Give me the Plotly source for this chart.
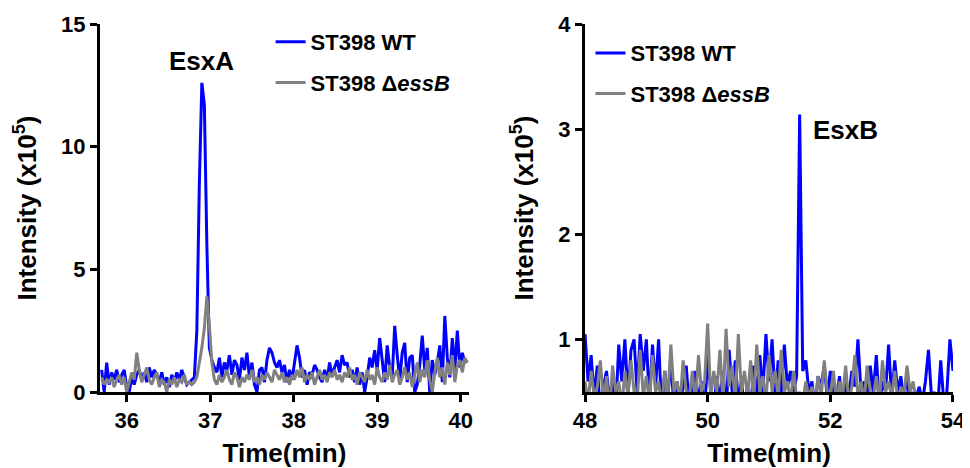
import numpy as np
import plotly.graph_objects as go
from plotly.subplots import make_subplots

# ---- Left panel (EsxA) : time grid and intensities (x10^5) ----
esxa_t_start, esxa_t_step, esxa_n = 35.70, 0.03, 147
esxa_time = np.round(esxa_t_start + esxa_t_step * np.arange(esxa_n), 3)

esxa_wt = [
    0.9, 0.0, 1.2, 0.3, 0.8, 0.5, 0.9, 0.4, 0.7, 0.9, 0.2, 0.0, 0.6, 0.3, 0.7, 0.9, 0.5, 0.8, 0.4, 1.0,
    0.6, 0.9, 0.7, 0.4, 0.8, 0.3, 0.6, 0.2, 0.7, 0.4, 0.8, 0.5, 0.9, 0.6, 0.3, 0.4, 0.5,
    0.6, 2.5, 8.5, 12.6, 11.7, 6.0, 1.8, 1.3, 1.0,
    0.8, 1.4, 0.6, 1.2, 0.9, 1.5, 0.7, 1.3, 1.1, 0.5, 1.4, 0.9, 1.6, 0.6, 1.2, 0.3, 0.0, 0.9, 1.0, 0.4,
    1.3, 1.8, 1.6, 1.2, 1.0, 1.3, 0.8, 1.1, 0.4, 0.9, 0.5, 1.2, 1.9, 1.4, 0.6, 0.9, 0.3, 0.8, 0.7, 1.1,
    0.9, 0.6, 0.4, 0.9, 0.5, 1.2, 0.7, 1.0, 1.3, 0.8, 1.5, 1.1, 1.2, 0.6, 0.9, 0.4, 1.0, 0.3, 0.8, 0.0,
    0.6, 1.4, 1.0, 1.7, 0.9, 2.2, 1.2, 0.4, 1.9, 1.0, 0.6, 2.7, 1.5, 0.5, 1.6, 2.0, 0.4, 1.4, 1.5, 0.0,
    0.3, 1.1, 2.3, 0.9, 1.8, 0.0, 1.3, 0.7, 1.2, 1.9, 0.4, 3.1, 1.4, 0.6, 2.2, 0.9, 2.5, 1.0, 1.6, 1.2,
    1.3,
]
esxa_ko = [
    0.6, 0.3, 0.5, 0.4, 0.6, 0.2, 0.5, 0.7, 0.3, 0.6, 0.0, 0.4, 0.8, 0.5, 1.6, 0.9, 0.4, 0.7, 1.0, 0.5,
    0.3, 0.6, 0.8, 0.2, 0.5, 0.4, 0.0, 0.5, 0.3, 0.6, 0.2, 0.5, 0.4, 0.7, 0.3, 0.4, 0.3,
    0.4, 0.6, 1.2, 1.8, 2.6, 3.9, 2.7, 1.2, 0.5,
    0.3, 0.7, 0.4, 0.6, 0.9, 0.5, 0.3, 0.8, 0.6, 0.2, 0.6, 0.4, 0.7, 0.5, 0.9, 0.4, 0.6, 0.3, 0.7, 0.5,
    0.8, 0.6, 0.4, 0.9, 0.7, 0.5, 0.8, 0.4, 0.6, 0.3, 0.7, 0.5, 0.9, 0.6, 1.0, 0.4, 0.7, 0.5, 0.8, 0.3,
    0.6, 0.9, 0.5, 0.7, 0.4, 0.8, 0.6, 0.9, 0.5, 0.7, 0.4, 0.8, 0.6, 1.0, 0.5, 0.7, 0.3, 0.8, 0.6, 0.4,
    0.9, 0.5, 0.7, 0.3, 1.0, 0.6, 0.4, 0.8, 0.5, 1.1, 0.4, 0.7, 0.9, 0.3, 0.6, 1.0, 0.5, 0.8, 0.2, 0.7,
    1.2, 0.4, 0.9, 0.6, 1.3, 0.5, 0.0, 0.8, 1.4, 0.6, 1.0, 0.3, 1.2, 0.7, 1.5, 0.4, 1.1, 1.3, 0.8, 1.4,
    1.2,
]

# ---- Right panel (EsxB) ----
esxb_t_start, esxb_t_step, esxb_n = 48.0, 0.05, 121
esxb_time = np.round(esxb_t_start + esxb_t_step * np.arange(esxb_n), 3)

esxb_wt = [
    1.05, 0.6, 0.85, 0.45, 0.75, 0.3, 0.55, 0.7, 0.4, 0.65, 0.3, 0.95, 0.6, 1.0, 0.45, 0.9, 1.0, 0.5, 1.05, 0.7,
    1.0, 0.4, 0.95, 0.55, 1.0, 0.3, 0.7, 0.45, 0.8, 0.35, 0.6, 0.4, 0.55, 0.75, 0.35, 0.5, 0.7, 0.4, 0.6, 0.3,
    0.85, 0.5, 0.35, 0.65, 0.4, 0.7, 0.3, 0.9, 0.5, 0.8, 0.4, 0.6, 0.35, 0.55, 0.3, 0.75, 0.45, 0.85, 0.5, 1.05,
    0.6, 1.0, 0.45, 0.8, 0.5, 0.95, 0.55, 0.7, 0.5, 0.65, 3.14, 0.7, 0.8, 0.5, 0.6, 0.35, 0.65, 0.55, 0.75, 0.45,
    0.7, 0.5, 0.45, 0.65, 0.3, 0.6, 0.45, 0.7, 0.55, 1.0, 0.5, 0.6, 0.4, 0.75, 0.5, 0.85, 0.35, 0.6, 0.5, 0.95,
    0.45, 0.8, 0.5, 0.65, 0.4, 0.7, 0.35, 0.5, 0.45, 0.55, 0.4, 0.6, 0.9, 0.45, 0.5, 0.35, 0.8, 0.4, 0.5, 1.0,
    0.7,
]
esxb_ko = [
    0.6, 0.4, 0.7, 0.45, 0.55, 0.8, 0.4, 0.65, 0.3, 0.75, 0.5, 0.6, 0.35, 0.7, 0.45, 0.8, 0.5, 0.4, 0.9, 0.45,
    0.65, 0.4, 0.85, 0.5, 0.6, 0.35, 0.7, 0.45, 0.95, 0.5, 0.6, 0.4, 0.8, 0.5, 0.45, 0.7, 0.4, 0.85, 0.5, 0.6,
    1.15, 0.45, 0.7, 0.5, 0.9, 0.4, 1.1, 0.55, 0.75, 0.4, 1.05, 0.5, 0.7, 0.45, 0.8, 0.4, 0.95, 0.5, 0.65, 0.4,
    0.85, 0.5, 0.7, 0.45, 0.9, 0.5, 0.6, 0.4, 0.7, 0.45, 0.5, 0.4, 0.6, 0.45, 0.55, 0.4, 0.65, 0.45, 0.8, 0.5,
    0.45, 0.7, 0.4, 0.6, 0.45, 0.75, 0.4, 0.55, 0.85, 0.45, 0.6, 0.4, 0.75, 0.5, 0.45, 0.65, 0.4, 0.8, 0.5, 0.6,
    0.45, 0.7, 0.4, 0.55, 0.45, 0.75, 0.5, 0.6, 0.4, 0.3, 0.3, 0.3, 0.3, 0.3, 0.3, 0.3, 0.3, 0.3, 0.3, 0.3,
    0.3,
]

series_names = ["ST398 WT", "ST398 \u0394<i>essB</i>"]
series_colors = ["#0000FF", "#808080"]
esxa_ticks = [0, 5, 10, 15]
esxb_ticks = [1, 2, 3, 4]

FONT = "Liberation Sans, Arial, sans-serif"

fig = make_subplots(rows=1, cols=2, horizontal_spacing=0.136)
fig.update_layout(
    xaxis=dict(domain=[0.0, 0.4326]),
    xaxis2=dict(domain=[0.5686, 1.0]),
)

for name, col, ys, grp in zip(series_names, series_colors, [esxa_wt, esxa_ko], ["a1", "a2"]):
    fig.add_trace(go.Scatter(x=esxa_time, y=ys, mode="lines", name=name,
                             line=dict(color=col, width=3), legend="legend",
                             legendgroup=grp), row=1, col=1)
for name, col, ys, grp in zip(series_names, series_colors, [esxb_wt, esxb_ko], ["b1", "b2"]):
    fig.add_trace(go.Scatter(x=esxb_time, y=ys, mode="lines", name=name,
                             line=dict(color=col, width=3), legend="legend2",
                             legendgroup=grp), row=1, col=2)

axis_common = dict(showline=True, linecolor="black", linewidth=3, ticks="outside",
                   ticklen=7, tickwidth=3, tickcolor="black", showgrid=False, zeroline=False,
                   automargin=False,
                   tickfont=dict(family=FONT, size=22, color="black", weight="bold"))
title_font = dict(family=FONT, size=26, color="black", weight="bold")

fig.update_xaxes(**axis_common)
fig.update_yaxes(**axis_common)
fig.update_xaxes(range=[35.68, 40.1], tickvals=[36, 37, 38, 39, 40],
                 title=dict(text="Time(min)", font=title_font, standoff=13), row=1, col=1)
fig.update_xaxes(range=[48, 54], tickvals=[48, 50, 52, 54],
                 title=dict(text="Time(min)", font=title_font, standoff=13), row=1, col=2)
fig.update_yaxes(range=[0, 15], tickvals=esxa_ticks,
                 title=dict(text="Intensity (x10<sup>5</sup>)", font=title_font, standoff=18), row=1, col=1)
fig.update_yaxes(range=[0.5, 4], tickvals=esxb_ticks,
                 title=dict(text="Intensity (x10<sup>5</sup>)", font=title_font, standoff=18), row=1, col=2)

legend_common = dict(font=dict(family=FONT, size=22, color="black", weight="bold"),
                     bgcolor="rgba(0,0,0,0)", tracegroupgap=9, itemwidth=30,
                     xanchor="left", yanchor="top")
fig.update_layout(
    legend=dict(x=0.2, y=1.008, **legend_common),
    legend2=dict(x=0.575, y=0.978, **legend_common),
)

fig.add_annotation(text="EsxA", x=36.9, y=13.5, xref="x", yref="y", showarrow=False,
                   font=dict(family=FONT, size=26, color="black", weight="bold"),
                   xanchor="center", yanchor="middle")
fig.add_annotation(text="EsxB", x=51.68, y=2.99, xref="x2", yref="y2", showarrow=False,
                   font=dict(family=FONT, size=26, color="black", weight="bold"),
                   xanchor="left", yanchor="middle")

# The page body adds an 8px offset, so the figure is 962x460 to fill the 970x468 window.
fig.update_layout(width=962, height=460, margin=dict(l=92, r=17, t=16, b=76),
                  plot_bgcolor="white", paper_bgcolor="white", showlegend=True)

fig.write_html("out.html")
